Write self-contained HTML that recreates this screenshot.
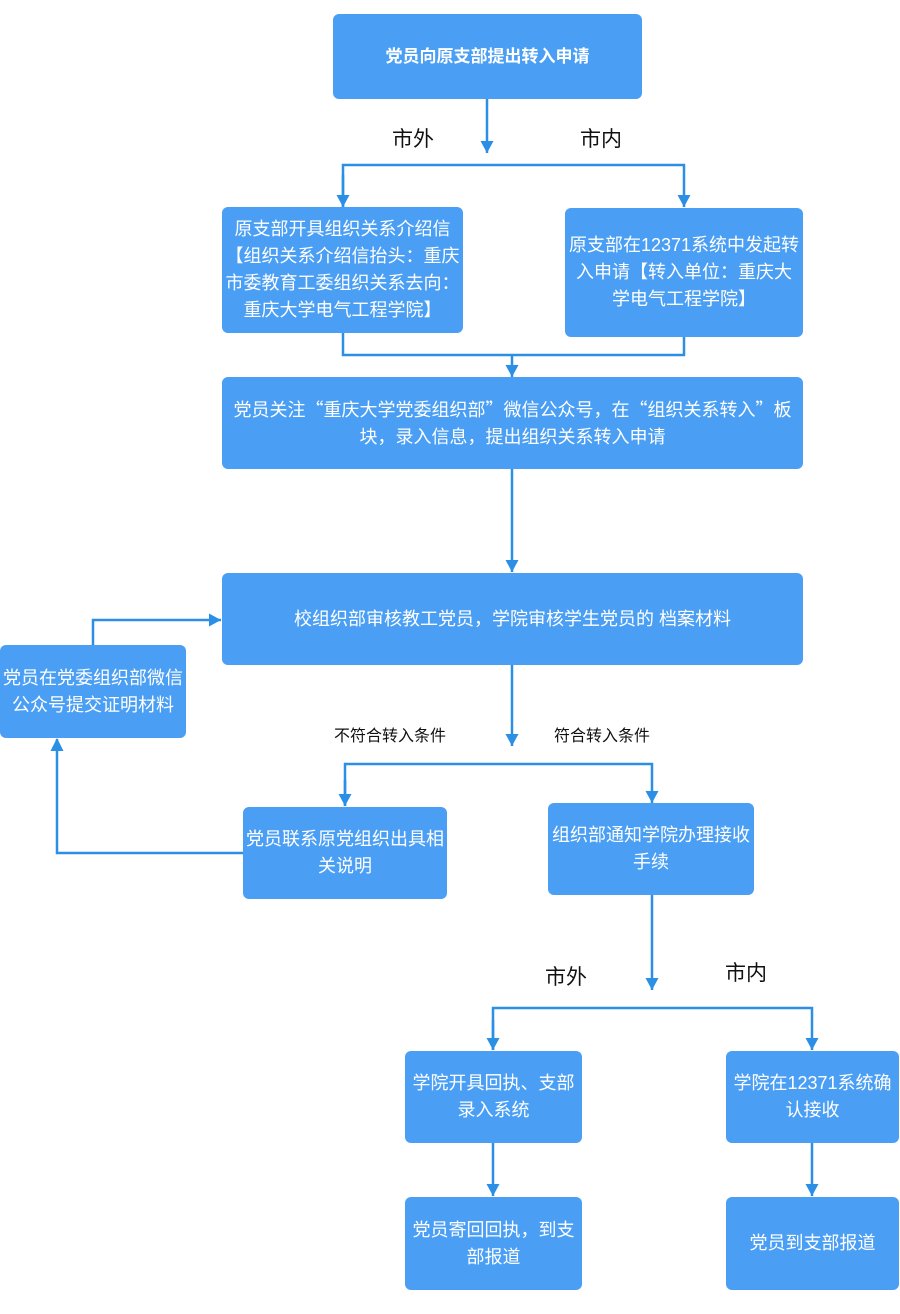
<!DOCTYPE html>
<html><head><meta charset="utf-8"><style>
body{margin:0;background:#fff;width:900px;height:1314px;position:relative;overflow:hidden;font-family:"Liberation Sans","Noto Sans CJK SC",sans-serif}
.b{position:absolute;background:#4a9ff5;border-radius:6px;color:#fff;display:flex;align-items:center;justify-content:center;text-align:center;font-size:18px;line-height:27px;box-sizing:border-box;padding:0;white-space:nowrap}
.q{font-family:"Noto Sans CJK SC",sans-serif}
.l{position:absolute;color:#111;transform:translateX(-50%);white-space:nowrap}
svg{position:absolute;left:0;top:0}
</style></head><body>
<svg width="900" height="1314">
<defs>
<marker id="r" markerWidth="13" markerHeight="13" refX="12" refY="6.5" orient="0" markerUnits="userSpaceOnUse"><path d="M0,0 L12,6.5 L0,13Z" fill="#2b8fe6"/></marker>
<marker id="u" markerWidth="13" markerHeight="13" refX="6.5" refY="1" orient="0" markerUnits="userSpaceOnUse"><path d="M0,13 L6.5,0 L13,13Z" fill="#2b8fe6"/></marker>
<marker id="d" markerWidth="13" markerHeight="13" refX="6.5" refY="12" orient="0" markerUnits="userSpaceOnUse"><path d="M0,0 L13,0 L6.5,12Z" fill="#2b8fe6"/></marker></defs>
<g stroke="#2b8fe6" stroke-width="2.5" fill="none">
<path d="M487,99 V153" marker-end="url(#d)"/>
<path d="M343,207 V165 H684 V207" marker-end="url(#d)"/>
<path d="M343,175 V207" marker-end="url(#d)"/>
<path d="M343,333 V355 H684 V337"/>
<path d="M512,355 V377" marker-end="url(#d)"/>
<path d="M512,469 V572" marker-end="url(#d)"/>
<path d="M512,665 V746" marker-end="url(#d)"/>
<path d="M345,806 V764 H652 V803" marker-end="url(#d)"/>
<path d="M345,780 V806" marker-end="url(#d)"/>
<path d="M243,853 H57 V739" marker-end="url(#u)"/>
<path d="M93,645 V620 H221" marker-end="url(#r)"/>
<path d="M803,620 H771 V626"/>
<path d="M652,895 V990" marker-end="url(#d)"/>
<path d="M493,1050 V1008 H812 V1050" marker-end="url(#d)"/>
<path d="M493,1020 V1050" marker-end="url(#d)"/>
<path d="M493,1143 V1196" marker-end="url(#d)"/>
<path d="M812,1143 V1196" marker-end="url(#d)"/>
</g>
<path d="M764,632 L771,620 L778,632Z" fill="#2b8fe6"/>
</svg>
<div class="b" style="left:333px;top:14px;width:309px;height:85px;font-weight:bold;font-size:17px">党员向原支部提出转入申请</div>
<div class="b" style="left:222px;top:207px;width:241px;height:126px"><div>原支部开具组织关系介绍信<br>【组织关系介绍信抬头：重庆<br>市委教育工委组织关系去向：<br>重庆大学电气工程学院】</div></div>
<div class="b" style="left:565px;top:208px;width:238px;height:129px"><div>原支部在12371系统中发起转<br>入申请【转入单位：重庆大<br>学电气工程学院】</div></div>
<div class="b" style="left:222px;top:377px;width:581px;height:92px"><div>党员关注<span class="q">“</span>重庆大学党委组织部<span class="q">”</span>微信公众号，在<span class="q">“</span>组织关系转入<span class="q">”</span>板<br>块，录入信息，提出组织关系转入申请</div></div>
<div class="b" style="left:222px;top:573px;width:581px;height:92px">校组织部审核教工党员，学院审核学生党员的 档案材料</div>
<div class="b" style="left:0px;top:645px;width:186px;height:93px"><div>党员在党委组织部微信<br>公众号提交证明材料</div></div>
<div class="b" style="left:243px;top:807px;width:204px;height:92px"><div>党员联系原党组织出具相<br>关说明</div></div>
<div class="b" style="left:548px;top:803px;width:206px;height:92px"><div>组织部通知学院办理接收<br>手续</div></div>
<div class="b" style="left:405px;top:1051px;width:177px;height:92px"><div>学院开具回执、支部<br>录入系统</div></div>
<div class="b" style="left:726px;top:1051px;width:173px;height:92px"><div>学院在12371系统确<br>认接收</div></div>
<div class="b" style="left:405px;top:1197px;width:177px;height:93px"><div>党员寄回回执，到支<br>部报道</div></div>
<div class="b" style="left:726px;top:1197px;width:173px;height:93px">党员到支部报道</div>
<div class="l" style="left:413px;top:123px;font-size:21px">市外</div>
<div class="l" style="left:601px;top:123px;font-size:21px">市内</div>
<div class="l" style="left:390px;top:722px;font-size:16px">不符合转入条件</div>
<div class="l" style="left:602px;top:722px;font-size:16px">符合转入条件</div>
<div class="l" style="left:566px;top:961px;font-size:21px">市外</div>
<div class="l" style="left:746px;top:957px;font-size:21px">市内</div>
</body></html>
